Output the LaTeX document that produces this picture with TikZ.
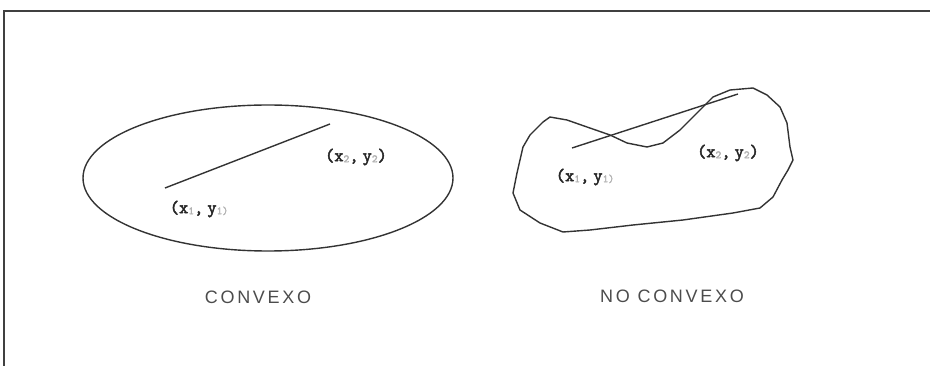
\documentclass[tikz,border=0pt]{standalone}
\usepackage{fontspec}
\usetikzlibrary{shapes.geometric}
\setmainfont{Liberation Sans}
\newfontfamily\lblfont{Latin Modern Mono}[FakeBold=2.5]
\begin{document}
\begin{tikzpicture}[x=1pt,y=-1pt,
  shape line/.style={line width=1.4pt,draw=black!80},
  ptlabel/.style={font=\lblfont\bfseries\fontsize{18}{18}\selectfont,text=black!85,inner sep=0pt},
  caption/.style={font=\addfontfeature{LetterSpace=15}\fontsize{18}{18}\selectfont,text=black!70,inner sep=0pt}]
\newcommand{\sbs}[1]{{\color{black!30}\fontsize{11}{11}\selectfont\raisebox{-1pt}{#1}}}
\useasboundingbox (0,0) rectangle (930,366);
\draw[line width=2pt,draw=black!75] (4,367) -- (4,11) -- (931,11);
% convex
\node[draw=black!80,line width=1.4pt,ellipse,minimum width=370,minimum height=146,inner sep=0pt] (ell) at (268,178) {};
\coordinate (a1) at (165,188);
\coordinate (a2) at (330,124);
\draw[shape line] (a1) -- (a2);
\node[ptlabel] (l1) at (199,209) {(x\sbs{1},\hspace{4pt}y\sbs{1)}};
\node[ptlabel] (l2) at (356,157) {(x\sbs{2},\hspace{4pt}y\sbs{2})};
% non convex
\draw[shape line,line join=round] (550,117) -- (567,120) -- (587,127) -- (610,135) -- (627,143) -- (647,147) -- (663,143) -- (680,130) -- (700,110) -- (713,97) -- (730,90) -- (753,88) -- (767,95) -- (780,107) -- (787,123) -- (790,147) -- (793,160) -- (788,170) -- (782,180) -- (773,197) -- (760,208) -- (733,213) -- (683,220) -- (633,225) -- (590,230) -- (563,232) -- (540,223) -- (520,210) -- (513,193) -- (517,173) -- (523,147) -- (530,135) -- (543,122) -- cycle;
\coordinate (b1) at (572,148);
\coordinate (b2) at (738,94);
\draw[shape line] (b1) -- (b2);
\node[ptlabel] (l3) at (585,177) {(x\sbs{1},\hspace{4pt}y\sbs{1)}};
\node[ptlabel] (l4) at (728,153) {(x\sbs{2},\hspace{4pt}y\sbs{2})};
\node[caption] (c1) at (258,297) {CONVEXO};
\node[caption] (c2) at (672,296) {NO CONVEXO};
\end{tikzpicture}
\end{document}
